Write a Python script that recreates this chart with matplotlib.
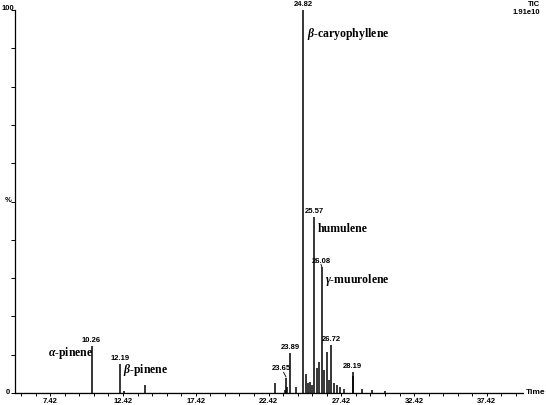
import numpy as np
import matplotlib
matplotlib.use('Agg')
import matplotlib.pyplot as plt
from matplotlib.ticker import MultipleLocator, FixedLocator

plt.rcParams['mathtext.fontset'] = 'custom'
plt.rcParams['mathtext.it'] = 'Liberation Serif:italic:bold'
plt.rcParams['mathtext.rm'] = 'Liberation Serif:bold'
plt.rcParams['mathtext.bf'] = 'Liberation Serif:bold'

# peak retention times (min) and heights (% of base peak)
peakTimes = [10.26, 12.19, 12.50, 13.95, 22.88, 23.52, 23.65, 23.72, 23.89, 24.30,
             24.82, 24.97, 25.10, 25.27, 25.42, 25.57, 25.73, 25.91, 26.08, 26.26,
             26.42, 26.58, 26.72, 26.94, 27.10, 27.33, 27.60, 28.19, 28.25, 28.82,
             29.50, 30.40]
peakHeights = [12.3, 7.6, 0.6, 2.0, 2.5, 0.8, 4.0, 1.5, 10.5, 1.5,
               100.0, 5.0, 2.5, 3.0, 2.0, 46.0, 6.5, 8.0, 33.0, 6.0,
               10.7, 3.4, 12.5, 2.6, 2.0, 1.5, 1.0, 5.5, 4.5, 1.0,
               0.8, 0.5]

# retention time labels
rtLabels = ['10.26', '12.19', '23.65', '23.89', '24.82', '25.57', '26.08', '26.72', '28.19']
rtLabelX = [10.26, 12.19, 23.30, 23.89, 24.82, 25.57, 26.08, 26.72, 28.19]
rtLabelY = [12.8, 8.1, 5.5, 11.0, 100.6, 46.5, 33.5, 13.0, 6.0]
# compound names
names = [r'$\alpha$-pinene', r'$\beta$-pinene', r'$\beta$-caryophyllene',
         r'humulene', r'$\gamma$-muurolene']
nameX = [7.25, 12.42, 25.08, 25.82, 26.28]
nameY = [10.4, 6.0, 93.8, 42.9, 29.6]

fig = plt.figure(figsize=(5.46, 4.05), dpi=100)
ax = fig.add_axes([15/546, 12/405, 508/546, 383/405])

ax.plot([5.0, 39.9], [0, 0], color='black', lw=0.8)
ax.vlines(peakTimes, 0, peakHeights, color='black', lw=1.1)

ax.set_xlim(5.0, 39.9)
ax.set_ylim(0, 100)
for s in ['top', 'right']:
    ax.spines[s].set_visible(False)
ax.spines['left'].set_linewidth(0.9)
ax.spines['bottom'].set_linewidth(0.9)

ax.xaxis.set_major_locator(FixedLocator([7.42, 12.42, 17.42, 22.42, 27.42, 32.42, 37.42]))
ax.xaxis.set_minor_locator(FixedLocator(np.arange(5.42, 39.9, 1.0)))
ax.set_xticklabels(['7.42', '12.42', '17.42', '22.42', '27.42', '32.42', '37.42'],
                   fontsize=5.5, fontweight='bold', family='Liberation Sans')
ax.tick_params(axis='x', which='both', direction='out', length=2.5, width=0.7, pad=1)
ax.yaxis.set_major_locator(FixedLocator([]))
ax.yaxis.set_minor_locator(MultipleLocator(10))
ax.tick_params(axis='y', which='minor', direction='out', length=3, width=0.7)

numfont = dict(fontsize=5.5, fontweight='bold', family='Liberation Sans', ha='center', va='bottom')
for lab, x, y in zip(rtLabels, rtLabelX, rtLabelY):
    ax.text(x, y, lab, **numfont)
# leader lines
ax.plot([23.45, 23.62], [5.4, 4.2], color='black', lw=0.6)
ax.plot([26.08, 26.02], [33.0, 33.6], color='black', lw=0.6)

for n, x, y in zip(names, nameX, nameY):
    ax.text(x, y, n, fontsize=8.5, fontweight='bold', family='Liberation Serif',
            ha='left', va='center')

fig.text(8/546, 1 - 9/405, '100', fontsize=5.5, fontweight='bold', family='Liberation Sans',
         ha='center', va='center')
fig.text(8/546, 1 - 393/405, '0', fontsize=5.5, fontweight='bold', family='Liberation Sans',
         ha='center', va='center')
fig.text(8/546, 1 - 201/405, '%', fontsize=5.5, fontweight='bold', family='Liberation Sans',
         ha='center', va='center')
fig.text(540/546, 1 - 5/405, 'TIC', fontsize=5.5, fontweight='bold', family='Liberation Sans',
         ha='right', va='center')
fig.text(540/546, 1 - 13/405, '1.91e10', fontsize=5.5, fontweight='bold', family='Liberation Sans',
         ha='right', va='center')
fig.text(526/546, 1 - 393/405, 'Time', fontsize=6, fontweight='bold', family='Liberation Sans',
         ha='left', va='center')

fig.savefig('out.png', dpi=100)
